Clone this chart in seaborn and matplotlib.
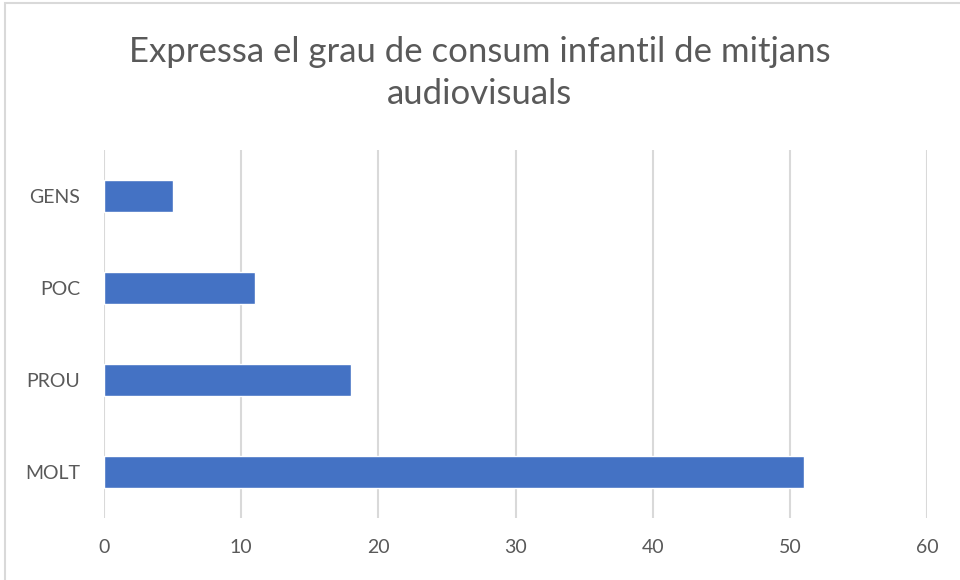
import matplotlib
matplotlib.use("Agg")
import matplotlib.pyplot as plt
import seaborn as sns
import pandas as pd
from matplotlib.patches import Rectangle

# Data
categories = ["GENS", "POC", "PROU", "MOLT"]
values = [5, 11, 18, 51]
x_ticks = [0, 10, 20, 30, 40, 50, 60]

df = pd.DataFrame({"category": categories, "value": values})

sns.set_theme(style="white")
plt.rcParams['font.family'] = ['Lato', 'DejaVu Sans']

fig = plt.figure(figsize=(9.6, 5.8), dpi=100)
ax = fig.add_axes([104 / 960, 62 / 580, 823 / 960, 368 / 580])

sns.barplot(data=df, x="value", y="category", order=categories, orient="h",
            color="#4472C4", saturation=1, width=0.35, ax=ax)

ax.set_xlim(0, 60)
ax.set_xticks(x_ticks)
ax.set_ylim(3.5, -0.5)
ax.set_xlabel("")
ax.set_ylabel("")
ax.grid(axis="x", color="#d9d9d9", linewidth=1.5)
ax.set_axisbelow(True)
for s in ax.spines.values():
    s.set_visible(False)
ax.tick_params(axis="both", length=0, labelsize=14, labelcolor="#595959")
ax.tick_params(axis="x", pad=15)
ax.tick_params(axis="y", pad=17)

fig.text(0.5, 1 - 73 / 580, "Expressa el grau de consum infantil de mitjans\naudiovisuals",
         ha="center", va="center", fontsize=25, color="#595959", linespacing=1.4)

# chart border
fig.patches.append(Rectangle((5 / 960, -0.1), 1.2, 1 - 3 / 580 + 0.1,
                             transform=fig.transFigure, fill=False,
                             edgecolor="#d9d9d9", linewidth=1.5))

fig.savefig("out.png", dpi=100)
